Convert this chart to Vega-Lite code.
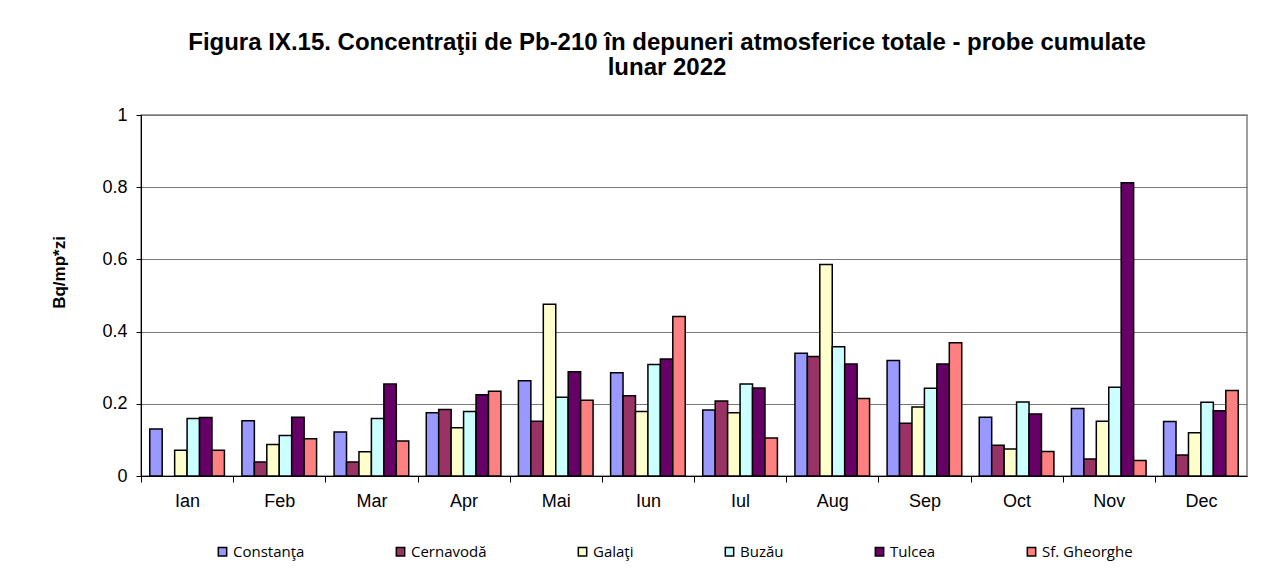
{
  "$schema": "https://vega.github.io/schema/vega-lite/v6.json",
  "autosize": "none",
  "width": 1106,
  "height": 361,
  "padding": {"left": 141, "top": 115, "right": 34, "bottom": 103},
  "background": "white",
  "title": {
    "text": ["Figura IX.15. Concentraţii de Pb-210 în depuneri atmosferice totale - probe cumulate", "lunar 2022"],
    "font": "Liberation Sans",
    "fontSize": 24,
    "fontWeight": "bold",
    "color": "#000000",
    "anchor": "middle",
    "frame": "group",
    "dx": -27,
    "offset": 26,
    "lineHeight": 25
  },
  "data": {
    "values": [
      {"m": "Ian", "s": "Constanţa", "v": 0.130}, {"m": "Ian", "s": "Galaţi", "v": 0.071}, {"m": "Ian", "s": "Buzău", "v": 0.159}, {"m": "Ian", "s": "Tulcea", "v": 0.162}, {"m": "Ian", "s": "Sf. Gheorghe", "v": 0.071},
      {"m": "Feb", "s": "Constanţa", "v": 0.153}, {"m": "Feb", "s": "Cernavodă", "v": 0.039}, {"m": "Feb", "s": "Galaţi", "v": 0.087}, {"m": "Feb", "s": "Buzău", "v": 0.112}, {"m": "Feb", "s": "Tulcea", "v": 0.163}, {"m": "Feb", "s": "Sf. Gheorghe", "v": 0.103},
      {"m": "Mar", "s": "Constanţa", "v": 0.122}, {"m": "Mar", "s": "Cernavodă", "v": 0.039}, {"m": "Mar", "s": "Galaţi", "v": 0.067}, {"m": "Mar", "s": "Buzău", "v": 0.159}, {"m": "Mar", "s": "Tulcea", "v": 0.255}, {"m": "Mar", "s": "Sf. Gheorghe", "v": 0.097},
      {"m": "Apr", "s": "Constanţa", "v": 0.175}, {"m": "Apr", "s": "Cernavodă", "v": 0.184}, {"m": "Apr", "s": "Galaţi", "v": 0.134}, {"m": "Apr", "s": "Buzău", "v": 0.179}, {"m": "Apr", "s": "Tulcea", "v": 0.225}, {"m": "Apr", "s": "Sf. Gheorghe", "v": 0.235},
      {"m": "Mai", "s": "Constanţa", "v": 0.264}, {"m": "Mai", "s": "Cernavodă", "v": 0.152}, {"m": "Mai", "s": "Galaţi", "v": 0.476}, {"m": "Mai", "s": "Buzău", "v": 0.218}, {"m": "Mai", "s": "Tulcea", "v": 0.289}, {"m": "Mai", "s": "Sf. Gheorghe", "v": 0.210},
      {"m": "Iun", "s": "Constanţa", "v": 0.286}, {"m": "Iun", "s": "Cernavodă", "v": 0.222}, {"m": "Iun", "s": "Galaţi", "v": 0.179}, {"m": "Iun", "s": "Buzău", "v": 0.309}, {"m": "Iun", "s": "Tulcea", "v": 0.324}, {"m": "Iun", "s": "Sf. Gheorghe", "v": 0.442},
      {"m": "Iul", "s": "Constanţa", "v": 0.183}, {"m": "Iul", "s": "Cernavodă", "v": 0.208}, {"m": "Iul", "s": "Galaţi", "v": 0.175}, {"m": "Iul", "s": "Buzău", "v": 0.255}, {"m": "Iul", "s": "Tulcea", "v": 0.244}, {"m": "Iul", "s": "Sf. Gheorghe", "v": 0.105},
      {"m": "Aug", "s": "Constanţa", "v": 0.340}, {"m": "Aug", "s": "Cernavodă", "v": 0.331}, {"m": "Aug", "s": "Galaţi", "v": 0.586}, {"m": "Aug", "s": "Buzău", "v": 0.358}, {"m": "Aug", "s": "Tulcea", "v": 0.310}, {"m": "Aug", "s": "Sf. Gheorghe", "v": 0.215},
      {"m": "Sep", "s": "Constanţa", "v": 0.320}, {"m": "Sep", "s": "Cernavodă", "v": 0.146}, {"m": "Sep", "s": "Galaţi", "v": 0.191}, {"m": "Sep", "s": "Buzău", "v": 0.243}, {"m": "Sep", "s": "Tulcea", "v": 0.310}, {"m": "Sep", "s": "Sf. Gheorghe", "v": 0.369},
      {"m": "Oct", "s": "Constanţa", "v": 0.163}, {"m": "Oct", "s": "Cernavodă", "v": 0.085}, {"m": "Oct", "s": "Galaţi", "v": 0.075}, {"m": "Oct", "s": "Buzău", "v": 0.205}, {"m": "Oct", "s": "Tulcea", "v": 0.172}, {"m": "Oct", "s": "Sf. Gheorghe", "v": 0.068},
      {"m": "Nov", "s": "Constanţa", "v": 0.187}, {"m": "Nov", "s": "Cernavodă", "v": 0.047}, {"m": "Nov", "s": "Galaţi", "v": 0.152}, {"m": "Nov", "s": "Buzău", "v": 0.246}, {"m": "Nov", "s": "Tulcea", "v": 0.812}, {"m": "Nov", "s": "Sf. Gheorghe", "v": 0.043},
      {"m": "Dec", "s": "Constanţa", "v": 0.151}, {"m": "Dec", "s": "Cernavodă", "v": 0.058}, {"m": "Dec", "s": "Galaţi", "v": 0.120}, {"m": "Dec", "s": "Buzău", "v": 0.204}, {"m": "Dec", "s": "Tulcea", "v": 0.181}, {"m": "Dec", "s": "Sf. Gheorghe", "v": 0.237}
    ]
  },
  "mark": {"type": "bar", "stroke": "#000000", "strokeWidth": 1.5},
  "encoding": {
    "x": {
      "field": "m",
      "type": "nominal",
      "sort": ["Ian", "Feb", "Mar", "Apr", "Mai", "Iun", "Iul", "Aug", "Sep", "Oct", "Nov", "Dec"],
      "scale": {"paddingInner": 0.19, "paddingOuter": 0.095},
      "axis": {
        "title": null,
        "labelAngle": 0,
        "labelFont": "Liberation Sans",
        "labelFontSize": 18,
        "labelColor": "#000000",
        "labelPadding": 10,
        "domainColor": "#000000",
        "tickColor": "#000000",
        "tickSize": 6,
        "tickOffset": -46.08,
        "labelOffset": 46.08,
        "grid": false
      }
    },
    "xOffset": {
      "field": "s",
      "type": "nominal",
      "sort": ["Constanţa", "Cernavodă", "Galaţi", "Buzău", "Tulcea", "Sf. Gheorghe"],
      "scale": {"paddingInner": 0, "paddingOuter": 0}
    },
    "y": {
      "field": "v",
      "type": "quantitative",
      "scale": {"domain": [0, 1], "nice": false},
      "axis": {
        "title": "Bq/mp*zi",
        "titleFont": "Liberation Sans",
        "titleFontSize": 17,
        "titleFontWeight": "bold",
        "titleColor": "#000000",
        "titlePadding": 33,
        "titleY": 157,
        "values": [0, 0.2, 0.4, 0.6, 0.8, 1],
        "format": "~g",
        "labelFont": "Liberation Sans",
        "labelFontSize": 18,
        "labelColor": "#000000",
        "labelPadding": 9,
        "domainColor": "#000000",
        "tickColor": "#000000",
        "tickSize": 5,
        "grid": true,
        "gridColor": "#777777",
        "gridWidth": 1.2
      }
    },
    "color": {
      "field": "s",
      "type": "nominal",
      "sort": ["Constanţa", "Cernavodă", "Galaţi", "Buzău", "Tulcea", "Sf. Gheorghe"],
      "scale": {
        "domain": ["Constanţa", "Cernavodă", "Galaţi", "Buzău", "Tulcea", "Sf. Gheorghe"],
        "range": ["#9999FF", "#993366", "#FFFFCC", "#CCFFFF", "#660066", "#FF8080"]
      },
      "legend": {
        "title": null,
        "orient": "none",
        "direction": "horizontal",
        "legendX": 74,
        "legendY": 429,
        "padding": 0,
        "symbolType": "square",
        "symbolSize": 70,
        "symbolStrokeColor": "#000000",
        "symbolStrokeWidth": 1.5,
        "symbolOpacity": 1,
        "labelFont": "Open Sans",
        "labelFontSize": 15,
        "labelColor": "#000000",
        "labelOffset": 3,
        "columnPadding": 88
      }
    }
  },
  "config": {
    "view": {"stroke": "#808080", "strokeWidth": 1.5},
    "font": "Liberation Sans"
  }
}
